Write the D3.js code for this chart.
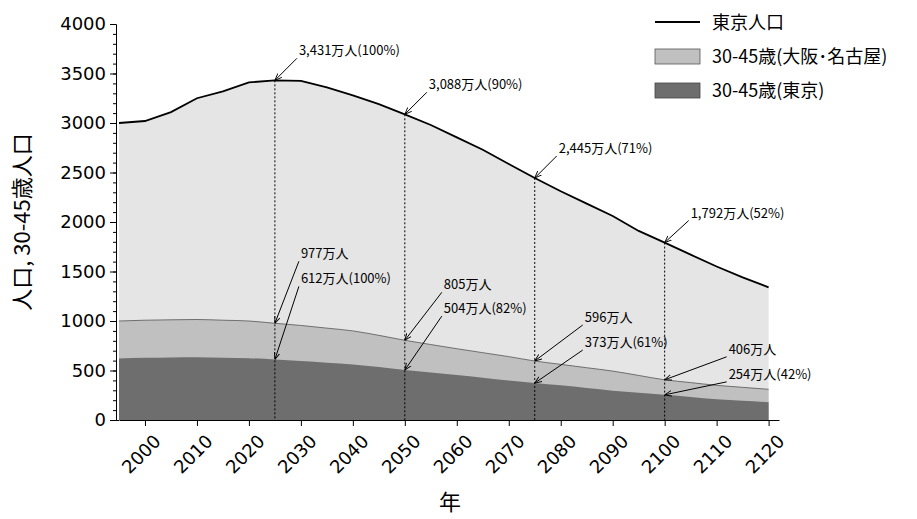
<!DOCTYPE html>
<html><head><meta charset="utf-8">
<script src="https://cdn.jsdelivr.net/npm/d3@7"></script>
<style>body{margin:0;background:#fff;font-family:"Noto Sans CJK JP","Noto Sans",sans-serif}</style>
</head><body><svg id="chart" width="917" height="519"></svg>
<script>
const years = [1995,2000,2005,2010,2015,2020,2025,2030,2035,2040,2045,2050,2055,2060,2065,2070,2075,2080,2085,2090,2095,2100,2105,2110,2115,2120];
const tokyoTotal = [3000,3020,3110,3250,3320,3410,3431,3425,3360,3280,3190,3088,2980,2855,2730,2585,2445,2310,2185,2060,1910,1792,1670,1550,1440,1340];
const band3045All = [1000,1008,1012,1015,1008,1000,977,955,928,900,855,805,762,720,680,640,596,562,528,494,450,406,378,350,330,310];
const band3045Tokyo = [620,628,632,635,630,625,612,595,578,560,535,504,480,455,428,400,373,350,322,296,275,254,232,210,195,180];
const markYears = [2025,2050,2075,2100];
const topLabels = ["3,431万人(100%)","3,088万人(90%)","2,445万人(71%)","1,792万人(52%)"];
const allLabels = ["977万人","805万人","596万人","406万人"];
const tokyoLabels = ["612万人(100%)","504万人(82%)","373万人(61%)","254万人(42%)"];
const yTicks = [0,500,1000,1500,2000,2500,3000,3500,4000];
const xTicks = [2000,2010,2020,2030,2040,2050,2060,2070,2080,2090,2100,2110,2120];

const svg = d3.select("#chart");
const x = d3.scaleLinear().domain([1995,2122]).range([119,779]);
const y = d3.scaleLinear().domain([0,4000]).range([420,24]);
const rows = years.map((yr,i) => ({yr, t: tokyoTotal[i], a: band3045All[i], k: band3045Tokyo[i]}));

svg.append("defs").append("marker").attr("id","arr").attr("viewBox","0 0 10 10")
  .attr("refX",10).attr("refY",5).attr("markerWidth",7).attr("markerHeight",7).attr("orient","auto")
  .append("path").attr("d","M0,1 L10,5 L0,9").attr("fill","none").attr("stroke","#000").attr("stroke-width",1.3);

const curve = d3.curveMonotoneX;
const area = f => d3.area().curve(curve).x(d => x(d.yr)).y0(y(0)).y1(d => y(f(d)));
svg.append("path").datum(rows).attr("d", area(d => d.t)).attr("fill","#e5e5e5");
svg.append("path").datum(rows).attr("d", area(d => d.a)).attr("fill","#c0c0c0");
svg.append("path").datum(rows).attr("d", area(d => d.k)).attr("fill","#6e6e6e");
svg.append("path").datum(rows).attr("d", d3.line().curve(curve).x(d => x(d.yr)).y(d => y(d.a))).attr("fill","none").attr("stroke","#555").attr("stroke-width",0.8);
svg.append("path").datum(rows).attr("d", d3.line().x(d => x(d.yr)).y(d => y(d.t))).attr("fill","none").attr("stroke","#000").attr("stroke-width",1.8);

const val = (arr, yr) => arr[years.indexOf(yr)];
markYears.forEach(yr => {
  svg.append("line").attr("x1",x(yr)).attr("x2",x(yr)).attr("y1",y(val(tokyoTotal,yr))).attr("y2",y(0))
    .attr("stroke","#000").attr("stroke-dasharray","2,2").attr("stroke-width",1);
});

const ann = (yr, v, txt, dx, dy) => {
  const px = x(yr), py = y(v);
  svg.append("line").attr("x1",px+dx-2).attr("y1",py+dy+7).attr("x2",px).attr("y2",py)
    .attr("stroke","#000").attr("stroke-width",1).attr("marker-end","url(#arr)");
  svg.append("text").attr("x",px+dx).attr("y",py+dy+4).attr("font-size",13).text(txt);
};
const topOff = [[24,-29],[24,-29],[24,-29],[26,-29]];
const allOff = [[26,-69],[39,-55],[50,-43],[64,-30]];
const tkOff = [[26,-80],[39,-61],[50,-40],[64,-20]];
markYears.forEach((yr,i) => {
  ann(yr, val(tokyoTotal,yr), topLabels[i], ...topOff[i]);
  ann(yr, val(band3045All,yr), allLabels[i], ...allOff[i]);
  ann(yr, val(band3045Tokyo,yr), tokyoLabels[i], ...tkOff[i]);
});

const yAx = svg.append("g").attr("transform","translate(116,0)")
  .call(d3.axisLeft(y).tickValues(yTicks).tickFormat(d3.format("d")).tickSize(6).tickPadding(4));
yAx.selectAll("text").attr("font-size",18).attr("font-family","DejaVu Sans");
svg.append("g").attr("transform","translate(116,0)")
  .call(d3.axisLeft(y).tickValues(d3.range(0,4100,100)).tickSize(3).tickFormat(""))
  .select(".domain").remove();
const xAx = svg.append("g").attr("transform","translate(0,420)")
  .call(d3.axisBottom(x).tickValues(xTicks).tickFormat(d3.format("d")).tickSize(6).tickSizeOuter(0));
xAx.selectAll("text").attr("font-size",18).attr("font-family","DejaVu Sans")
  .attr("text-anchor","end").attr("x",0).attr("y",0).attr("dy","0.35em")
  .attr("transform","translate(12,18) rotate(-45)");
svg.append("line").attr("x1",116).attr("x2",119).attr("y1",420.5).attr("y2",420.5).attr("stroke","#000");

svg.append("text").attr("transform","translate(30,222) rotate(-90)").attr("text-anchor","middle")
  .attr("font-size",22).text("人口, 30-45歳人口");
svg.append("text").attr("x",450).attr("y",510).attr("text-anchor","middle").attr("font-size",22).text("年");

const lg = svg.append("g");
lg.append("line").attr("x1",655).attr("x2",700).attr("y1",22).attr("y2",22).attr("stroke","#000").attr("stroke-width",1.8);
lg.append("rect").attr("x",655).attr("y",49).attr("width",45).attr("height",15).attr("fill","#c0c0c0").attr("stroke","#555").attr("stroke-width",0.8);
lg.append("rect").attr("x",655).attr("y",83).attr("width",45).attr("height",15).attr("fill","#6e6e6e").attr("stroke","#444").attr("stroke-width",0.8);
[["東京人口",29],["30-45歳(大阪･名古屋)",63],["30-45歳(東京)",97]].forEach(([t,yy]) =>
  lg.append("text").attr("x",712).attr("y",yy).attr("font-size",18).text(t));
</script></body></html>
